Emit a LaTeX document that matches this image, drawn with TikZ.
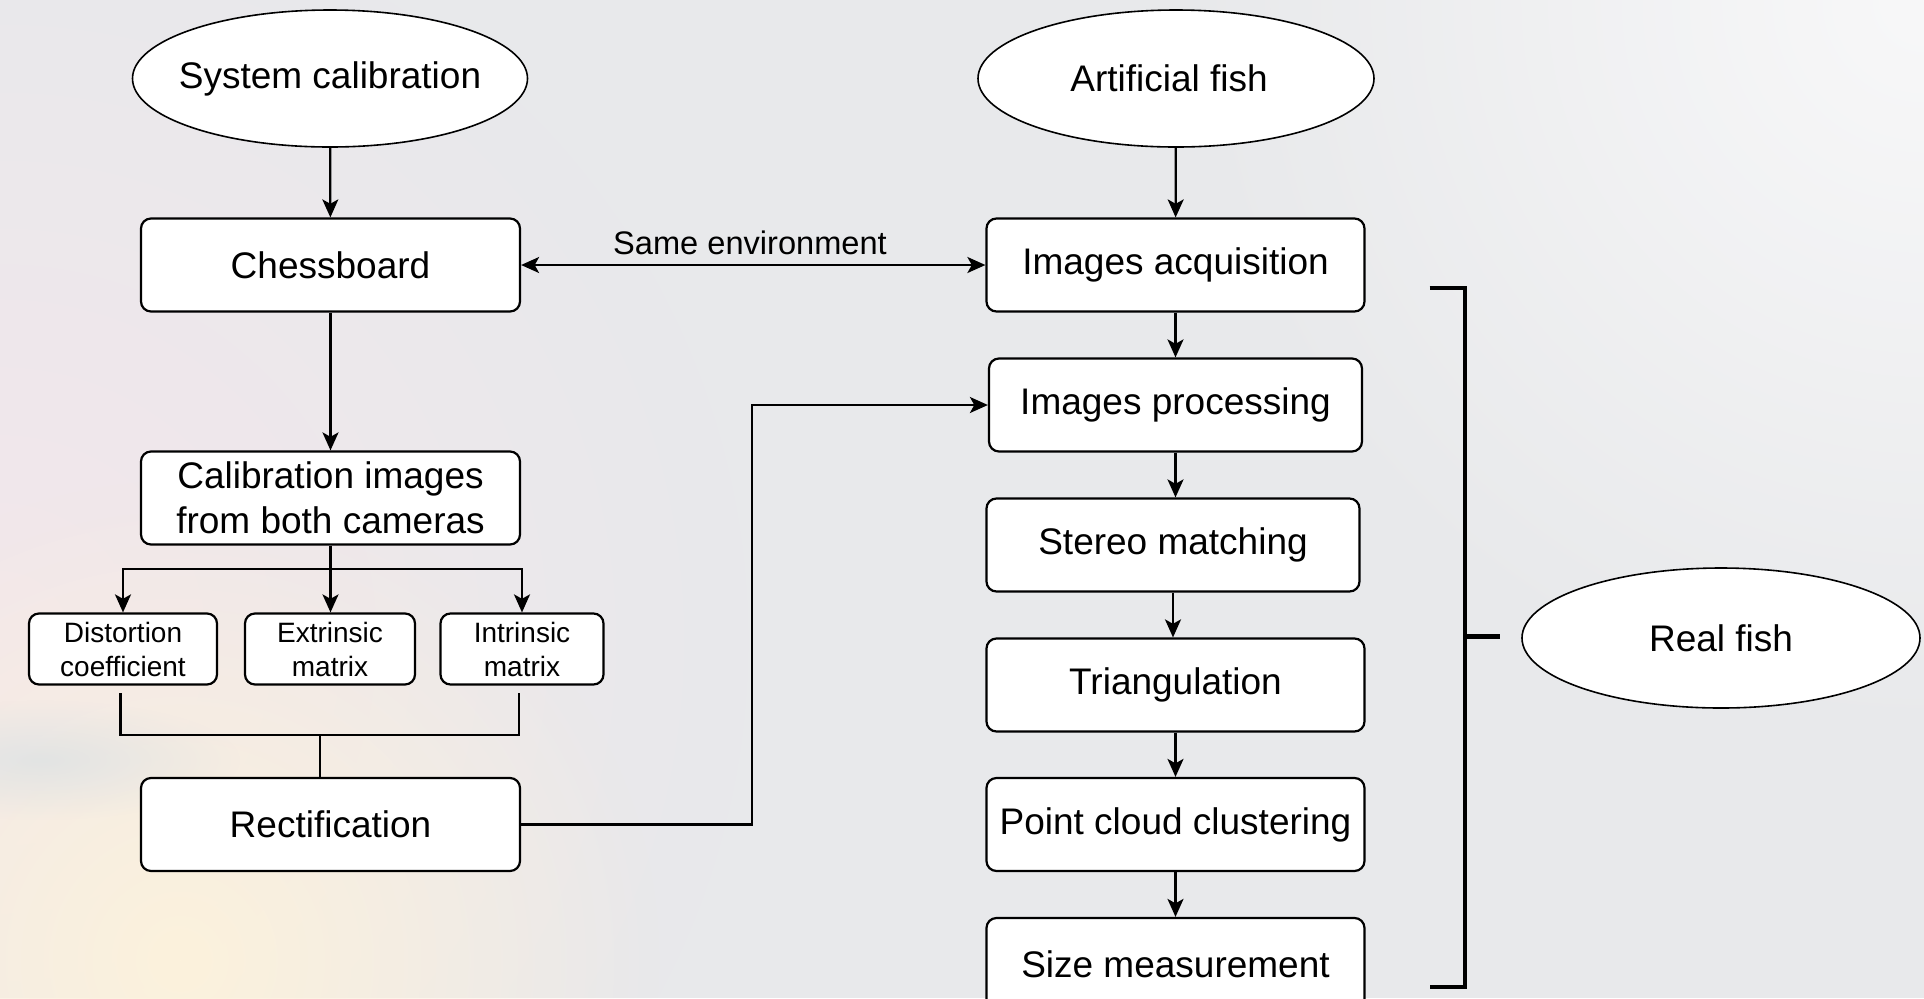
\documentclass[tikz,border=0pt]{standalone}
\usepackage{fontspec}
\setmainfont{Liberation Sans}
\usetikzlibrary{arrows.meta,shapes.geometric,fadings}
\definecolor{bg}{HTML}{E8E9EB}
\definecolor{bgwhite}{HTML}{F8F8F9}
\definecolor{bgpink}{HTML}{F3E7EB}
\definecolor{bgcream}{HTML}{FCF2DC}
\definecolor{bggrey}{HTML}{E2E4E4}
\newcommand\fbig{\fontsize{18.5}{22.7}\selectfont}
\newcommand\fsmall{\fontsize{14}{17}\selectfont}
\newcommand\flabel{\fontsize{16.3}{19}\selectfont}
\tikzfading[name=blobfade, inner color=transparent!0, outer color=transparent!100]
\begin{document}
\begin{tikzpicture}[x=0.5pt,y=-0.5pt,
  box/.style={draw,fill=white,rounded corners=5pt,line width=1.1pt,inner sep=0pt,align=center,font=\fbig,minimum height=46.5pt},
  sbox/.style={draw,fill=white,rounded corners=5pt,line width=1.1pt,inner sep=0pt,align=center,font=\fsmall,minimum height=35.5pt},
  oval/.style={draw,fill=white,ellipse,line width=0.8pt,inner sep=0pt,font=\fbig},
  conn/.style={line width=1.1pt},
  arr/.style={line width=1.1pt,-{Stealth[length=9pt,width=8pt,inset=2.2pt]}},
  darr/.style={line width=1.1pt,{Stealth[length=9pt,width=8pt,inset=2.2pt]}-{Stealth[length=9pt,width=8pt,inset=2.2pt]}},
  brk/.style={line width=2.4pt}
]
% background
\fill[bg] (0,0) rectangle (1924,998);
\begin{scope}
\clip (0,0) rectangle (1924,998);
\fill[bgwhite,path fading=blobfade] (1924,0) circle (750);
\fill[bgpink,path fading=blobfade] (0,640) circle (750);
\fill[bgcream,path fading=blobfade] (180,960) circle (480);
\fill[bggrey,path fading=blobfade] (40,760) ellipse (200 and 60);
\end{scope}
\useasboundingbox (0,0) rectangle (1924,998);

% nodes
\node[oval,minimum width=197.5pt,minimum height=68.5pt] (sys) at (330,78.5) {\makebox[0pt]{System calibration}};
\node[oval,minimum width=198pt,minimum height=68.5pt] (art) at (1176,78.5) {\makebox[0pt]{\hspace*{-7pt}Artificial fish}};
\node[box,minimum width=189.5pt] (chess) at (330.5,265) {Chessboard};
\node[box,minimum width=189pt] (acq) at (1175.5,265) {Images acquisition};
\node[box,minimum width=186.5pt] (proc) at (1175.5,405) {Images processing};
\node[box,minimum width=186.5pt] (stereo) at (1173,545) {Stereo matching};
\node[box,minimum width=189pt] (tri) at (1175.5,685) {Triangulation};
\node[box,minimum width=189pt] (pcc) at (1175.5,824.5) {Point cloud clustering};
\node[box,minimum width=189pt] (size) at (1175.5,964.5) {Size measurement};
\node[box,minimum width=189.5pt] (calib) at (330.5,498) {Calibration images\\from both cameras};
\node[sbox,minimum width=94pt] (dist) at (123,649) {Distortion\\coefficient};
\node[sbox,minimum width=85pt] (ext) at (330,649) {Extrinsic\\matrix};
\node[sbox,minimum width=81.5pt] (intr) at (522,649) {Intrinsic\\matrix};
\node[box,minimum width=189.5pt] (rect) at (330.5,824.5) {Rectification};
\node[oval,minimum width=199pt,minimum height=70pt] (real) at (1721,638) {\makebox[0pt]{Real fish}};
\node[font=\flabel,inner sep=0pt] (lab) at (750,243) {Same environment};

% connectors
\draw[arr] (sys) -- (chess);
\draw[arr] (art) -- (acq);
\draw[darr] (chess.east) -- (acq.west);
\draw[arr] (chess) -- (calib);
\draw[conn] (calib.south) -- ++(0,23) coordinate (bus);
\draw[arr] (bus) -| (dist.north);
\draw[arr] (bus) -- (bus |- ext.north);
\draw[arr] (bus) -| (intr.north);
\coordinate (dj) at (120.4,693);
\coordinate (ij) at (519,693);
\coordinate (jm) at (319.6,735);
\draw[conn] (dj) |- (jm) -| (ij);
\draw[conn] (jm) -- (jm |- rect.north);
\coordinate (turn) at (752,0);
\draw[arr] (rect.east) -| (turn |- proc.west) -- (proc.west);
\draw[arr] (acq) -- (proc);
\draw[arr] (proc) -- (proc |- stereo.north);
\draw[arr] (stereo.south) -- (stereo.south |- tri.north);
\draw[arr] (tri) -- (pcc);
\draw[arr] (pcc) -- (size);

% bracket
\coordinate (btop) at (1429.6,288);
\coordinate (bbot) at (1429.6,987);
\coordinate (bmid) at (1465,636.5);
\coordinate (btick) at (1500,636.5);
\draw[brk] (btop) -- (1465,288) -- (1465,987) -- (bbot);
\draw[brk] (bmid) -- (btick);
\end{tikzpicture}
\end{document}
